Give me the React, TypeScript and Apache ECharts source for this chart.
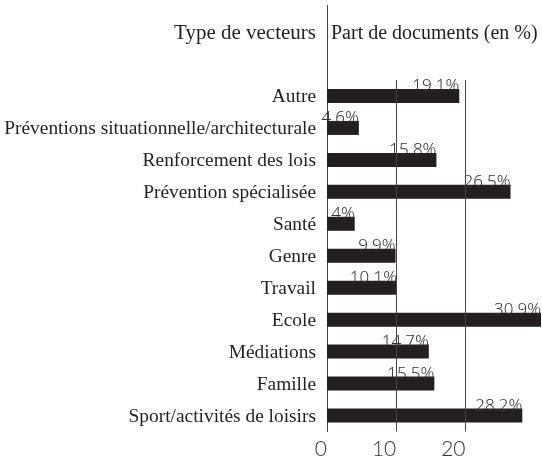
import React, { useEffect, useRef } from "react";
import * as echarts from "echarts";

const categories = [
  "Autre",
  "Préventions situationnelle/architecturale",
  "Renforcement des lois",
  "Prévention spécialisée",
  "Santé",
  "Genre",
  "Travail",
  "Ecole",
  "Médiations",
  "Famille",
  "Sport/activités de loisirs",
];
const values = [19.1, 4.6, 15.8, 26.5, 4, 9.9, 10.1, 30.9, 14.7, 15.5, 28.2];
const valueLabels = ["19.1%", "4.6%", "15.8%", "26.5%", "4%", "9.9%", "10.1%", "30.9%", "14.7%", "15.5%", "28.2%"];
const tickValues = [0, 10, 20];
const gridValues = [10, 20];
const leftHeader = "Type de vecteurs";
const rightHeader = "Part de documents (en %)";

const INK = "#231f20";
const SERIF = "'Liberation Serif', 'DejaVu Serif', serif";

export default function App() {
  const ref = useRef<HTMLDivElement>(null);
  useEffect(() => {
    if (!ref.current) return;
    const chart = echarts.init(ref.current, undefined, { renderer: "svg" });
    chart.setOption({
      animation: false,
      grid: { left: 327, right: 1, top: 80, bottom: 26.5, containLabel: false },
      xAxis: {
        type: "value",
        min: 0,
        max: 30.9,
        splitLine: { show: false },
        axisLine: { show: false },
        axisTick: { show: false },
        axisLabel: {
          customValues: tickValues,
          align: "right",
          margin: 5,
          fontSize: 21,
          color: "#333",
          fontFamily: "Lato, 'Open Sans', sans-serif",
          fontWeight: 300,
        },
      },
      yAxis: {
        type: "category",
        data: categories,
        inverse: true,
        axisLine: { show: true, lineStyle: { color: "#444", width: 1 } },
        axisTick: { show: false },
        axisLabel: { fontSize: 19.4, color: INK, fontFamily: SERIF, margin: 11 },
      },
      series: [
        {
          type: "bar",
          data: values,
          barWidth: 14,
          itemStyle: { color: INK },
          label: {
            show: true,
            position: ["100%", 0],
            align: "right",
            verticalAlign: "middle",
            offset: [0, -4],
            fontSize: 17,
            color: "#333",
            fontFamily: "'Noto Sans', sans-serif",
            fontWeight: 300,
            formatter: (p: any) => valueLabels[p.dataIndex],
          },
          markLine: {
            silent: true,
            symbol: "none",
            label: { show: false },
            lineStyle: { color: "#444", width: 1, type: "solid" },
            data: gridValues.map((v) => ({ xAxis: v })),
          },
          z: 3,
        },
      ],
      graphic: [
        {
          type: "line",
          shape: { x1: 327.5, y1: 5, x2: 327.5, y2: 80 },
          style: { stroke: "#444", lineWidth: 1 },
        },
        {
          type: "text",
          x: 316,
          y: 32,
          style: { text: leftHeader, fontSize: 21, fontFamily: SERIF, fill: INK, align: "right", verticalAlign: "middle" },
        },
        {
          type: "text",
          x: 331,
          y: 32,
          style: { text: rightHeader, fontSize: 20, fontFamily: SERIF, fill: INK, align: "left", verticalAlign: "middle" },
        },
      ],
    });
    return () => chart.dispose();
  }, []);
  return <div ref={ref} style={{ position: "fixed", left: 0, top: 0, width: 542, height: 458 }} />;
}
